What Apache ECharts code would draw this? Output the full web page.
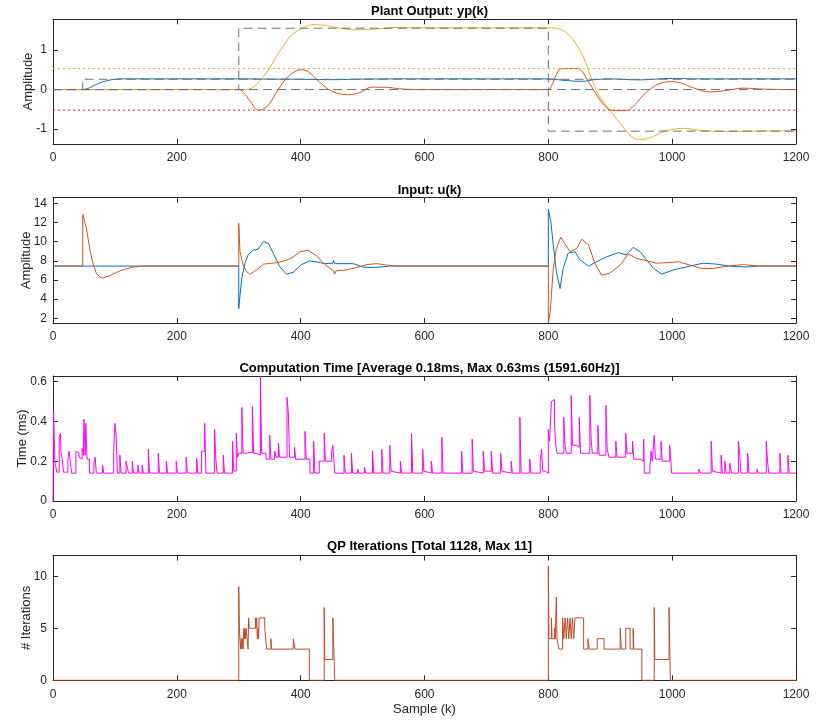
<!DOCTYPE html>
<html>
<head>
<meta charset="utf-8">
<script src="https://cdn.jsdelivr.net/npm/echarts@6/dist/echarts.min.js"></script>
<style>
  html, body { margin: 0; padding: 0; background: #fff; }
  #chart { width: 835px; height: 725px; }
</style>
</head>
<body>
<div id="chart"></div>
<script>
// tick labels
var xTicks = [0, 200, 400, 600, 800, 1000, 1200];
var yTicksOut = [-1, 0, 1];
var yTicksIn = [2, 4, 6, 8, 10, 12, 14];
var yTicksTime = [0, 0.2, 0.4, 0.6];
var yTicksQp = [0, 5, 10];

var titles = [
    'Plant Output: yp(k)',
    'Input: u(k)',
    'Computation Time [Average 0.18ms, Max 0.63ms (1591.60Hz)]',
    'QP Iterations [Total 1128, Max 11]'
];
var yNames = ['Amplitude', 'Amplitude', 'Time (ms)', '# Iterations'];

// plant outputs yp(k)
var yBlue = [[0, 0], [48, 0], [55, 0.02], [62, 0.07], [70, 0.13], [78, 0.18], [86, 0.22], [95, 0.25], [105, 0.265],
    [120, 0.27], [300, 0.27], [340, 0.265], [400, 0.26], [450, 0.25], [500, 0.265], [600, 0.27], [800, 0.27],
    [815, 0.25], [835, 0.22], [855, 0.21], [875, 0.25], [900, 0.27], [945, 0.245], [1000, 0.28], [1050, 0.27], [1200, 0.27]];
var yOrange = [[0, 0], [300, 0], [310, -0.12], [320, -0.33], [332, -0.52], [345, -0.44], [360, -0.1], [375, 0.25],
    [390, 0.45], [400, 0.5], [412, 0.45], [430, 0.2], [450, -0.04], [477, -0.13], [495, -0.08], [515, 0.06],
    [535, 0.06], [560, 0.02], [590, 0], [800, 0], [806, 0.12], [813, 0.38], [820, 0.52], [830, 0.53], [848, 0.53],
    [855, 0.45], [864, 0.22], [876, -0.08], [888, -0.35], [900, -0.51], [912, -0.53], [925, -0.53], [936, -0.44],
    [950, -0.2], [965, 0.02], [982, 0.16], [999, 0.2], [1015, 0.16], [1035, 0.04], [1061, -0.06], [1088, -0.02],
    [1115, 0.035], [1150, 0.01], [1200, 0]];
var yYellow = [[0, 0], [300, 0], [315, 0.01], [325, 0.08], [340, 0.33], [350, 0.55], [361, 0.84], [372, 1.1],
    [383, 1.34], [399, 1.52], [420, 1.64], [440, 1.62], [460, 1.56], [490, 1.51], [520, 1.53], [560, 1.57],
    [620, 1.56], [800, 1.56], [810, 1.55], [820, 1.52], [830, 1.42], [840, 1.26], [856, 0.84], [870, 0.26],
    [883, -0.18], [899, -0.51], [916, -0.85], [932, -1.15], [945, -1.26], [957, -1.25], [970, -1.18],
    [991, -1.04], [1018, -0.98], [1045, -1.03], [1080, -1.06], [1120, -1.05], [1200, -1.04]];
// set points and constraints
var refBlue = [[0, 0], [48, 0], [48, 0.26], [1200, 0.26]];
var refOrange = [[0, 0], [1200, 0]];
var refYellow = [[0, 0], [300, 0], [300, 1.55], [800, 1.55], [800, -1.05], [1200, -1.05]];
var maxLimit = [[0, 0.53], [1200, 0.53]];
var minLimit = [[0, -0.52], [1200, -0.52]];

// inputs u(k)
var uBlue = [[0, 7.45], [300, 7.45], [300, 3.0], [302, 4.4], [305, 6.2], [310, 7.75], [315, 8.6], [323, 9.1],
    [331, 9.2], [340, 10.0], [348, 9.8], [356, 8.75], [366, 7.4], [377, 6.6], [388, 6.8], [401, 7.6], [415, 8.0],
    [428, 7.85], [439, 7.7], [452, 7.75], [453, 8.05], [455, 7.7], [485, 7.7], [501, 7.35], [512, 7.3], [528, 7.35],
    [544, 7.45], [800, 7.45], [800, 13.4], [804, 12.1], [808, 9.65], [813, 6.85], [819, 5.1], [824, 7.2],
    [832, 8.8], [843, 8.95], [851, 8.1], [865, 7.45], [878, 7.9], [894, 8.4], [913, 8.85], [926, 8.6], [937, 9.4],
    [948, 8.95], [970, 7.2], [983, 6.6], [1002, 7.05], [1029, 7.45], [1050, 7.75], [1071, 7.65], [1098, 7.4],
    [1120, 7.35], [1140, 7.45], [1200, 7.45]];
var uOrange = [[0, 7.45], [48, 7.45], [48, 12.85], [51, 12.7], [54, 11.4], [60, 9.0], [65, 7.6], [70, 6.7], [76, 6.3],
    [81, 6.2], [90, 6.4], [103, 6.8], [115, 7.1], [130, 7.35], [145, 7.45], [168, 7.45], [169, 7.55], [171, 7.45],
    [300, 7.45], [300, 11.9], [302, 8.95], [307, 7.6], [313, 6.85], [318, 6.6], [329, 7.05], [340, 7.65],
    [361, 7.8], [377, 8.05], [388, 8.4], [399, 8.95], [412, 9.1], [426, 8.5], [439, 7.6], [453, 6.95], [455, 6.6],
    [457, 6.95], [469, 7.0], [485, 7.2], [507, 7.6], [523, 7.7], [539, 7.55], [555, 7.45], [800, 7.45], [800, 1.52],
    [803, 2.7], [808, 7.2], [813, 9.3], [820, 10.45], [826, 9.85], [835, 8.95], [846, 9.3], [854, 10.25],
    [865, 9.65], [875, 7.75], [886, 6.5], [899, 6.7], [916, 7.55], [929, 8.7], [943, 8.25], [959, 8.0], [975, 7.75],
    [991, 7.8], [1010, 7.9], [1029, 7.55], [1048, 7.2], [1066, 7.2], [1085, 7.4], [1115, 7.6], [1131, 7.5],
    [1150, 7.45], [1200, 7.45]];

// computation time (ms), held until next sample
var compTime = [[0, 0], [1, 0.45], [3, 0.2], [6, 0.145], [10, 0.32], [12, 0.34], [13, 0.24], [15, 0.21], [17, 0.145],
    [24, 0.21], [26, 0.25], [28, 0.2], [30, 0.14], [37, 0.25], [39, 0.24], [42, 0.22], [45, 0.21], [47, 0.265],
    [49, 0.23], [50, 0.41], [52, 0.23], [53, 0.39], [55, 0.21], [59, 0.14], [66, 0.19], [68, 0.22], [70, 0.14],
    [80, 0.18], [82, 0.14], [98, 0.245], [100, 0.39], [102, 0.33], [104, 0.14], [108, 0.23], [110, 0.14],
    [118, 0.2], [120, 0.17], [122, 0.14], [128, 0.2], [130, 0.14], [137, 0.18], [139, 0.14], [144, 0.18],
    [146, 0.14], [154, 0.26], [156, 0.14], [170, 0.24], [172, 0.14], [183, 0.2], [185, 0.14], [199, 0.2],
    [201, 0.14], [215, 0.22], [217, 0.14], [232, 0.215], [234, 0.14], [240, 0.25], [245, 0.39], [247, 0.14],
    [261, 0.36], [263, 0.21], [265, 0.14], [275, 0.23], [277, 0.14], [290, 0.3], [292, 0.15], [296, 0.34],
    [298, 0.22], [300, 0.24], [305, 0.47], [307, 0.24], [312, 0.23], [315, 0.245], [322, 0.475], [324, 0.24],
    [328, 0.23], [335, 0.628], [337, 0.24], [344, 0.21], [350, 0.33], [352, 0.21], [358, 0.25], [360, 0.22],
    [364, 0.29], [366, 0.22], [378, 0.52], [380, 0.45], [382, 0.22], [390, 0.27], [392, 0.21], [407, 0.35],
    [409, 0.21], [415, 0.14], [421, 0.3], [423, 0.14], [430, 0.2], [438, 0.34], [440, 0.2], [450, 0.25],
    [452, 0.28], [455, 0.14], [470, 0.23], [472, 0.14], [482, 0.24], [484, 0.14], [492, 0.16], [494, 0.14],
    [503, 0.17], [505, 0.14], [516, 0.25], [518, 0.14], [531, 0.26], [533, 0.14], [544, 0.28], [546, 0.15],
    [549, 0.14], [561, 0.2], [563, 0.14], [579, 0.34], [581, 0.14], [597, 0.26], [599, 0.15], [601, 0.14],
    [611, 0.2], [613, 0.14], [628, 0.32], [630, 0.14], [644, 0.15], [646, 0.14], [660, 0.25], [662, 0.14],
    [677, 0.31], [679, 0.15], [681, 0.14], [695, 0.25], [697, 0.15], [708, 0.25], [710, 0.14], [723, 0.24],
    [725, 0.15], [727, 0.14], [740, 0.2], [742, 0.14], [754, 0.42], [756, 0.14], [770, 0.21], [772, 0.14],
    [787, 0.21], [789, 0.26], [791, 0.15], [795, 0.14], [800, 0.36], [802, 0.3], [805, 0.5], [808, 0.51],
    [810, 0.39], [812, 0.28], [814, 0.24], [825, 0.42], [827, 0.28], [829, 0.24], [837, 0.53], [839, 0.28],
    [845, 0.27], [850, 0.42], [852, 0.24], [860, 0.24], [867, 0.53], [869, 0.32], [871, 0.24], [880, 0.38],
    [882, 0.23], [893, 0.48], [895, 0.26], [898, 0.22], [909, 0.3], [911, 0.22], [925, 0.34], [927, 0.24],
    [936, 0.3], [938, 0.21], [948, 0.2], [954, 0.31], [955, 0.14], [964, 0.17], [966, 0.25], [968, 0.2],
    [971, 0.33], [973, 0.21], [982, 0.3], [984, 0.2], [996, 0.28], [998, 0.2], [999, 0.14], [1010, 0.15],
    [1012, 0.14], [1027, 0.15], [1029, 0.14], [1043, 0.16], [1046, 0.14], [1063, 0.3], [1065, 0.15], [1067, 0.14],
    [1079, 0.23], [1081, 0.14], [1085, 0.2], [1087, 0.14], [1093, 0.19], [1096, 0.14], [1107, 0.3], [1109, 0.24],
    [1111, 0.14], [1122, 0.24], [1124, 0.14], [1137, 0.16], [1139, 0.14], [1152, 0.3], [1154, 0.2], [1156, 0.14],
    [1174, 0.24], [1176, 0.14], [1180, 0.15], [1182, 0.14], [1187, 0.23], [1189, 0.14], [1200, 0.14]];

// QP iterations per sample
var qpIter = [[0, 0], [300, 9], [301, 5], [303, 3], [304, 4], [305, 3], [306, 4], [307, 3], [308, 5], [309, 4],
    [310, 5], [311, 4], [312, 5], [315, 3], [316, 6], [317, 5], [327, 6], [328, 5], [329, 6], [330, 4], [331, 5],
    [332, 4], [333, 6], [342, 5], [345, 3], [352, 4], [353, 3], [388, 4], [391, 3], [414, 0], [438, 7], [439, 2],
    [452, 6], [455, 0], [800, 11], [801, 4], [805, 6], [806, 4], [810, 5], [811, 4], [813, 8], [814, 4], [817, 3],
    [823, 6], [825, 4], [827, 6], [829, 4], [831, 6], [833, 4], [835, 6], [837, 4], [839, 6], [841, 4], [843, 6],
    [857, 3], [864, 4], [866, 3], [879, 4], [890, 3], [916, 5], [918, 3], [925, 5], [932, 3], [937, 5], [938, 3],
    [951, 0], [971, 7], [972, 2], [995, 7], [997, 0], [1200, 0]];

var axisColor = '#262626';
var boxes = [
    { top: 19.3, height: 124.5, yMin: -1.37, yMax: 1.775, ticks: yTicksOut, gap: 18, titleTop: 0 },
    { top: 197.7, height: 125.3, yMin: 1.51, yMax: 14.58, ticks: yTicksIn, gap: 20, titleTop: 179 },
    { top: 376, height: 125, yMin: 0, yMax: 0.628, ticks: yTicksTime, gap: 24, titleTop: 357 },
    { top: 555.5, height: 124.8, yMin: 0, yMax: 12, ticks: yTicksQp, gap: 20, titleTop: 535 }
];

function makeAxis(g, pos, min, max, ticks, showLabel) {
    return {
        type: 'value', gridIndex: g, position: pos, min: min, max: max,
        axisLine: { show: true, onZero: false, lineStyle: { color: axisColor, width: 1 } },
        axisTick: { show: true, inside: true, length: 5, customValues: ticks, lineStyle: { color: axisColor } },
        axisLabel: {
            show: showLabel, customValues: ticks, color: axisColor, fontSize: 12,
            margin: (pos === 'left' ? 6 : 8),
            formatter: function (v) { return String(v); }
        },
        splitLine: { show: false }
    };
}

var grids = [], xAxes = [], yAxes = [];
boxes.forEach(function (b, g) {
    grids.push({ left: 53, width: 743, top: b.top, height: b.height });
    var xb = makeAxis(g, 'bottom', 0, 1200, xTicks, true);
    if (g === 3) {
        xb.name = 'Sample (k)';
        xb.nameLocation = 'middle';
        xb.nameGap = 23;
        xb.nameMoveOverlap = false;
        xb.nameTextStyle = { fontSize: 13, color: axisColor };
    }
    xAxes.push(xb, makeAxis(g, 'top', 0, 1200, xTicks, false));
    var yl = makeAxis(g, 'left', b.yMin, b.yMax, b.ticks, true);
    yl.name = yNames[g];
    yl.nameLocation = 'middle';
    yl.nameGap = b.gap;
    yl.nameMoveOverlap = false;
    yl.nameTextStyle = { fontSize: 13, color: axisColor };
    yAxes.push(yl, makeAxis(g, 'right', b.yMin, b.yMax, b.ticks, false));
});

function line(g, data, color, extra) {
    var s = {
        type: 'line', xAxisIndex: 2 * g, yAxisIndex: 2 * g, data: data,
        symbol: 'none', lineStyle: { color: color, width: 1 }, z: 2
    };
    for (var k in extra) s[k] = extra[k];
    if (extra && extra.dash) s.lineStyle.type = extra.dash;
    return s;
}

var chart = echarts.init(document.getElementById('chart'));

var option = {
    animation: false,
    backgroundColor: '#ffffff',
    textStyle: { fontFamily: 'Liberation Sans, Arial, sans-serif' },
    title: titles.map(function (t, i) {
        return {
            text: t, left: 424.5, top: boxes[i].titleTop, textAlign: 'center',
            textStyle: { fontSize: 13, fontWeight: 'bold', color: '#000' }
        };
    }),
    grid: grids,
    xAxis: xAxes,
    yAxis: yAxes,
    series: [
        line(0, yBlue, '#0072BD', { smooth: 0.4 }),
        line(0, yOrange, '#D95319', { smooth: 0.4 }),
        line(0, yYellow, '#EDB120', { smooth: 0.4 }),
        line(0, refBlue, '#707070', { dash: [9, 5] }),
        line(0, refOrange, '#707070', { dash: [9, 5] }),
        line(0, refYellow, '#707070', { dash: [9, 5] }),
        line(0, maxLimit, '#EDB120', { dash: [2, 3] }),
        line(0, minLimit, '#E8202A', { dash: [2, 3] }),
        line(1, uBlue, '#0072BD'),
        line(1, uOrange, '#D95319'),
        line(2, compTime, '#FF00FF', { step: 'end' }),
        line(3, qpIter, '#C04A2A', { step: 'end' })
    ]
};

chart.setOption(option);

window.onresize = chart.resize;
</script>
</body>
</html>
